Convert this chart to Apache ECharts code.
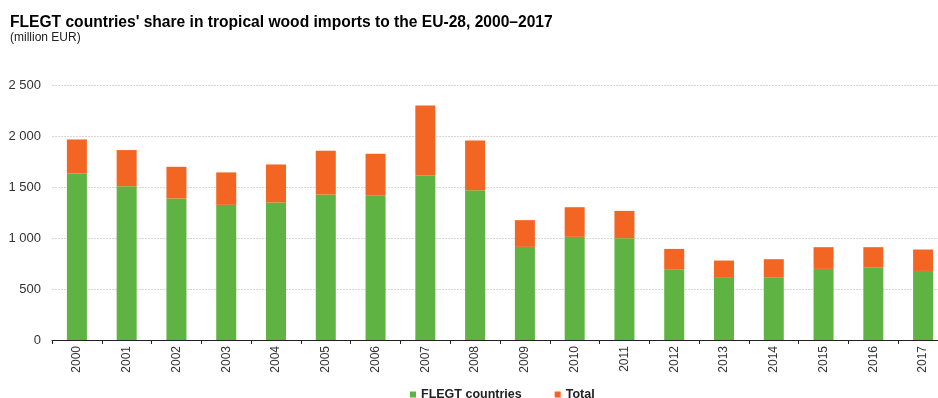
<!DOCTYPE html>
<html>
<head>
<meta charset="utf-8">
<script src="https://cdn.jsdelivr.net/npm/echarts@6/dist/echarts.min.js"></script>
<style>
  html, body { margin: 0; padding: 0; background: #fff; overflow: hidden; }
  #wrap { width: 938px; height: 398px; overflow: hidden; }
  #chart { width: 948px; height: 398px; }
</style>
</head>
<body>
<div id="wrap"><div id="chart"></div></div>
<script>
// Years on the category axis
const years = ['2000', '2001', '2002', '2003', '2004', '2005', '2006', '2007', '2008',
               '2009', '2010', '2011', '2012', '2013', '2014', '2015', '2016', '2017'];

// Tropical wood imports to the EU-28 (million EUR)
const flegtValues = [1636, 1508, 1387, 1325, 1348, 1427, 1420, 1613, 1469,
                     913, 1011, 998, 690, 609, 615, 697, 710, 677];
const totalValues = [1966, 1862, 1698, 1643, 1721, 1855, 1826, 2300, 1957,
                     1175, 1302, 1266, 893, 779, 792, 910, 910, 887];

// Value-axis ticks
const yTicks = [0, 500, 1000, 1500, 2000, 2500];

const GREEN = '#5fb342';
const ORANGE = '#f26522';
const FONT = '"Liberation Sans", Arial, sans-serif';

const fmt = v => String(v).replace(/\B(?=(\d{3})+(?!\d))/g, ' ');

// Orange part of each bar: the rest of the total above the FLEGT share
const restValues = totalValues.map((t, i) => t - flegtValues[i]);

const chart = echarts.init(document.getElementById('chart'), null, { renderer: 'canvas' });

chart.setOption({
  animation: false,
  backgroundColor: '#ffffff',
  title: {
    text: "FLEGT countries' share in tropical wood imports to the EU-28, 2000\u20132017",
    subtext: '(million EUR)',
    left: 5,
    top: 10,
    itemGap: 1,
    textStyle: { fontFamily: FONT, fontSize: 15.6, fontWeight: 'bold', color: '#000' },
    subtextStyle: { fontFamily: FONT, fontSize: 12, color: '#222' }
  },
  legend: {
    top: 383,
    left: 405,
    itemWidth: 6,
    itemHeight: 6,
    itemGap: 33,
    icon: 'rect',
    textStyle: { fontFamily: FONT, fontSize: 12.5, fontWeight: 'bold', color: '#222' },
    data: ['FLEGT countries', 'Total']
  },
  grid: {
    left: 52,
    right: 0,
    top: 85,
    bottom: 58,
    containLabel: false
  },
  xAxis: {
    type: 'category',
    data: years,
    boundaryGap: true,
    axisLine: { lineStyle: { color: '#222', width: 1 } },
    axisTick: { show: true, length: 4, lineStyle: { color: '#222' } },
    axisLabel: {
      rotate: 90,
      margin: 6,
      fontFamily: FONT,
      fontSize: 12,
      color: '#333'
    }
  },
  yAxis: {
    type: 'value',
    min: yTicks[0],
    max: yTicks[yTicks.length - 1],
    interval: 500,
    axisLine: { show: false },
    axisTick: { show: false },
    axisLabel: {
      margin: 11,
      fontFamily: FONT,
      fontSize: 13,
      color: '#333',
      formatter: v => fmt(v)
    },
    splitLine: { lineStyle: { color: '#d6d6d6', type: [2, 1], width: 1 } }
  },
  series: [
    {
      name: 'FLEGT countries',
      type: 'bar',
      stack: 'imports',
      data: flegtValues,
      barWidth: 20,
      itemStyle: { color: GREEN }
    },
    {
      name: 'Total',
      type: 'bar',
      stack: 'imports',
      data: restValues,
      barWidth: 20,
      itemStyle: { color: ORANGE }
    }
  ]
});
</script>
</body>
</html>
